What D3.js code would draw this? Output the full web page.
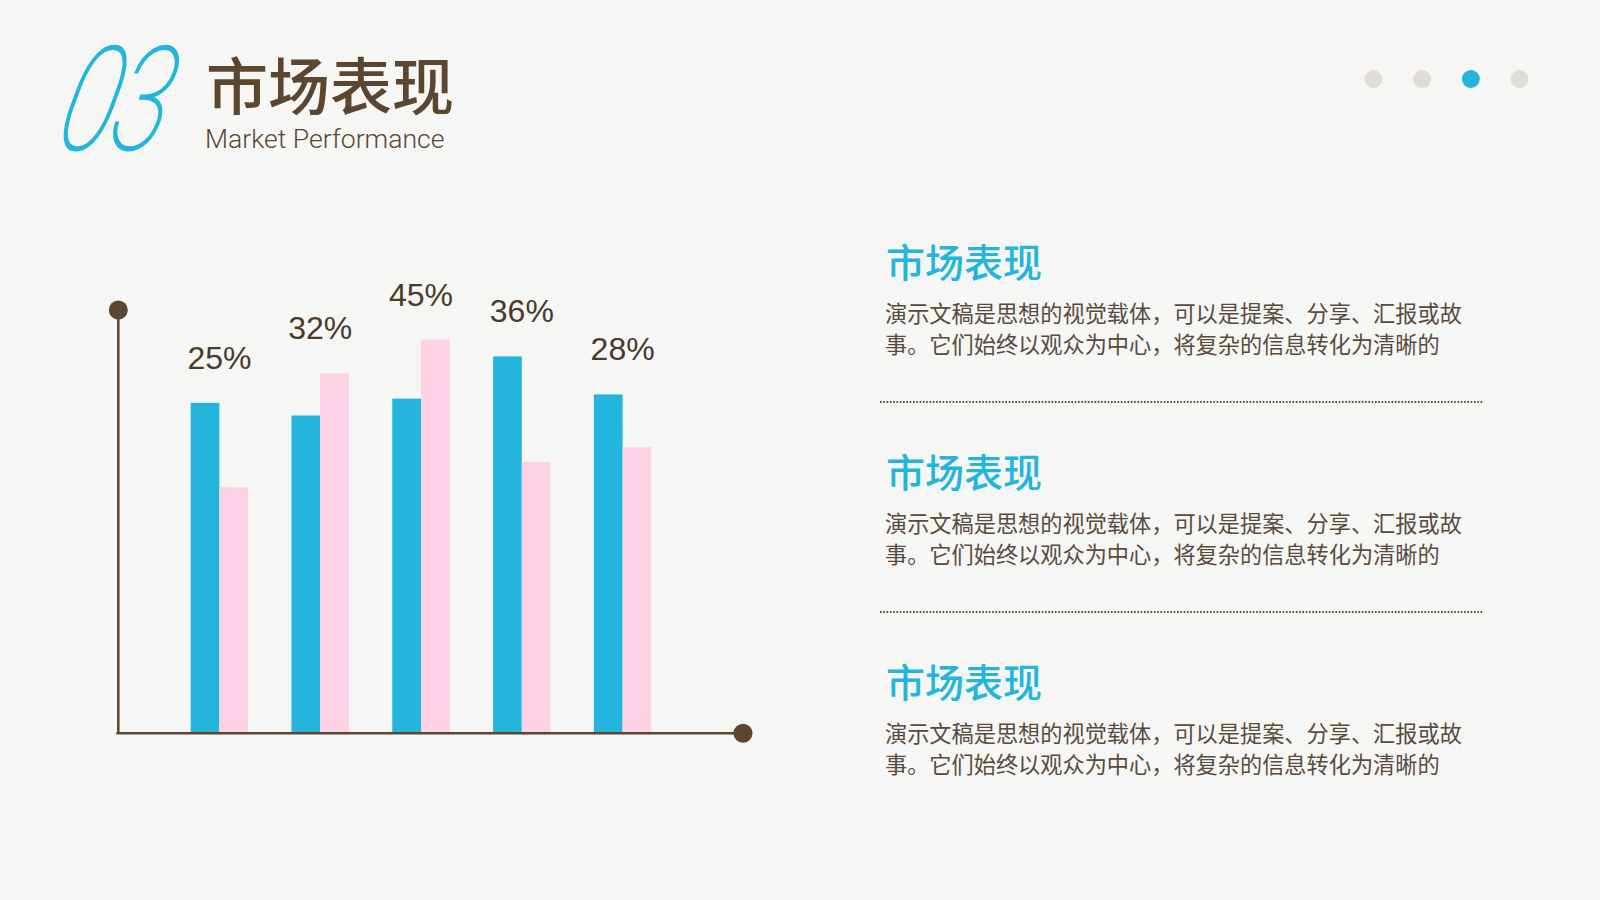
<!DOCTYPE html>
<html>
<head>
<meta charset="utf-8">
<script src="https://cdn.jsdelivr.net/npm/d3@7"></script>
<style>
  html, body { margin: 0; padding: 0; background: #f6f6f5; }
  svg { display: block; }
</style>
</head>
<body>
<div id="chart"></div>
<script>
// Data
const categories = ["1", "2", "3", "4", "5"];
const seriesBlue = [78, 75, 79, 89, 80];
const seriesPink = [58, 85, 93, 64, 67.5];
const barLabels = ["25%", "32%", "45%", "36%", "28%"];

const blockTitles = ["市场表现", "市场表现", "市场表现"];
const blockLine1 = "演示文稿是思想的视觉载体，可以是提案、分享、汇报或故";
const blockLine2 = "事。它们始终以观众为中心，将复杂的信息转化为清晰的";

const pageDots = [0, 1, 2, 3];
const activeDot = 2;

// Setup
const W = 1600, H = 900;
const brown = "#5b4630";
const blue = "#23b5dc";
const pink = "#fdd2e4";
const textBrown = "#5a4a3b";

const svg = d3.select("#chart")
  .append("svg")
    .attr("width", W)
    .attr("height", H);

svg.append("rect").attr("width", W).attr("height", H).attr("fill", "#f6f6f5");

// Header
svg.append("text")
  .attr("transform", "translate(53,150) skewX(-14) scale(0.72,1)")
  .attr("font-family", "Roboto, 'DejaVu Sans', sans-serif")
  .attr("font-style", "italic")
  .attr("font-weight", 200)
  .attr("font-size", 146)
  .attr("letter-spacing", -6)
  .attr("fill", blue)
  .text("03");

svg.append("text")
  .attr("x", 206).attr("y", 83)
  .attr("dominant-baseline", "central")
  .attr("font-family", "'Noto Sans CJK SC', sans-serif")
  .attr("font-weight", 500)
  .attr("font-size", 62)
  .attr("fill", brown)
  .text("市场表现");

svg.append("text")
  .attr("x", 205).attr("y", 148)
  .attr("font-family", "Roboto, sans-serif")
  .attr("font-weight", 300)
  .attr("font-size", 26.6)
  .attr("fill", brown)
  .text("Market Performance");

// Page dots
const dotX = d3.scalePoint().domain(pageDots).range([1373.5, 1519.5]);
svg.selectAll(".pdot").data(pageDots).enter()
  .append("circle")
    .attr("class", "pdot")
    .attr("cx", d => dotX(d))
    .attr("cy", 79)
    .attr("r", 9)
    .attr("fill", d => d === activeDot ? blue : "#e2dbd8");

// Chart scales
const x0 = d3.scaleBand().domain(categories).range([169, 673]).paddingInner(0.43).paddingOuter(0.215);
const x1 = d3.scaleBand().domain(["blue", "pink"]).range([0, x0.bandwidth()]);
const y = d3.scaleLinear().domain([0, 100]).range([732, 310]);

const axisX = 118.3;
const axisEnd = 743;

// Axes
svg.append("line")
  .attr("x1", axisX).attr("x2", axisX)
  .attr("y1", y(100)).attr("y2", y(0) + 1.3)
  .attr("stroke", brown).attr("stroke-width", 2.5);
svg.append("line")
  .attr("x1", axisX - 2).attr("x2", axisEnd)
  .attr("y1", y(0) + 1.3).attr("y2", y(0) + 1.3)
  .attr("stroke", brown).attr("stroke-width", 2.5);
svg.append("circle").attr("cx", axisX).attr("cy", y(100)).attr("r", 9.5).attr("fill", brown);
svg.append("circle").attr("cx", axisEnd).attr("cy", y(0) + 1.3).attr("r", 9.5).attr("fill", brown);

// Bars
const rows = categories.map((c, i) => ({ cat: c, blue: seriesBlue[i], pink: seriesPink[i], label: barLabels[i] }));

const groups = svg.selectAll(".grp").data(rows).enter()
  .append("g")
    .attr("class", "grp")
    .attr("transform", d => `translate(${x0(d.cat)},0)`);

groups.selectAll("rect")
  .data(d => [{ key: "blue", v: d.blue }, { key: "pink", v: d.pink }])
  .enter()
  .append("rect")
    .attr("x", d => x1(d.key))
    .attr("width", x1.bandwidth())
    .attr("y", d => y(d.v))
    .attr("height", d => y(0) - y(d.v))
    .attr("fill", d => d.key === "blue" ? blue : pink);

groups.append("text")
  .attr("x", x0.bandwidth() / 2)
  .attr("y", d => y(Math.max(d.blue, d.pink)) - 34)
  .attr("text-anchor", "middle")
  .attr("font-family", "'Liberation Sans', Arial, sans-serif")
  .attr("font-size", 32)
  .attr("fill", "#4a3a2a")
  .text(d => d.label);

// Right text blocks
const blockY = d3.scalePoint().domain(d3.range(blockTitles.length)).range([260, 680]);

const blocks = svg.selectAll(".blk").data(blockTitles).enter()
  .append("g")
    .attr("class", "blk")
    .attr("transform", (d, i) => `translate(885,${blockY(i)})`);

blocks.append("text")
  .attr("x", 1).attr("y", 0)
  .attr("dominant-baseline", "central")
  .attr("font-family", "'Noto Sans CJK SC', sans-serif")
  .attr("font-weight", 500)
  .attr("font-size", 39)
  .attr("fill", blue)
  .text(d => d);

[blockLine1, blockLine2].forEach((line, k) => {
  blocks.append("text")
    .attr("x", 0).attr("y", 52 + k * 31)
    .attr("dominant-baseline", "central")
    .attr("font-family", "'Noto Sans CJK SC', sans-serif")
    .attr("font-size", 22.2)
    .attr("fill", textBrown)
    .text(line);
});

blocks.filter((d, i) => i < blockTitles.length - 1)
  .append("line")
    .attr("x1", -5).attr("x2", 598)
    .attr("y1", 142).attr("y2", 142)
    .attr("stroke", textBrown)
    .attr("stroke-width", 2)
    .attr("stroke-dasharray", "1.6 1.7");
</script>
</body>
</html>
